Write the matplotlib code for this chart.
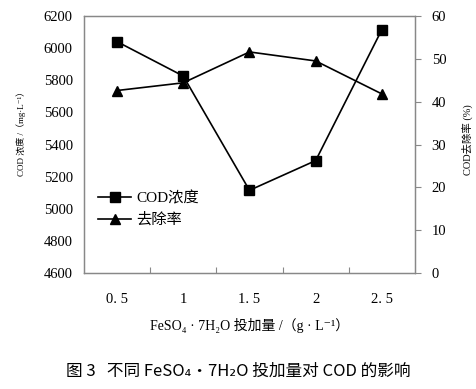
import matplotlib
matplotlib.use("Agg")
import matplotlib.pyplot as plt
import numpy as np

plt.rcParams['font.family'] = ['Liberation Serif', 'DejaVu Serif', 'Noto Sans CJK SC', 'DejaVu Sans']

# data
dose_labels = ["0. 5", "1", "1. 5", "2", "2. 5"]
cod = [6040, 5826, 5115, 5300, 6115]
removal = [42.6, 44.4, 51.6, 49.5, 41.8]

x = np.arange(len(dose_labels))
grey = "#888888"

fig = plt.figure(figsize=(4.77, 3.89), dpi=100)
ax = fig.add_axes([0.176, 0.298, 0.694, 0.661])
ax2 = ax.twinx()

l1, = ax.plot(x, cod, "-s", color="black", lw=1.2, ms=7, label="COD浓度")
l2, = ax2.plot(x, removal, "-^", color="black", lw=1.2, ms=7, label="去除率")

ax.set_xlim(-0.5, len(x) - 0.5)
ax.set_ylim(4600, 6200)
ax.set_yticks(np.arange(4600, 6201, 200))
ax2.set_ylim(0, 60)
ax2.set_yticks(np.arange(0, 61, 10))

# category labels centred, tick marks on the category boundaries
ax.set_xticks(np.arange(0.5, len(x) - 1, 1))
ax.set_xticklabels([])
ax.set_xticks(x, minor=True)
ax.set_xticklabels(dose_labels, minor=True)
ax.tick_params(axis="x", which="major", direction="in", length=4, color=grey)
ax.tick_params(axis="x", which="minor", length=0, pad=14, labelsize=10.5)
ax.tick_params(axis="y", direction="in", length=0, labelsize=10.5, pad=8)
ax2.tick_params(axis="y", direction="out", length=4, color=grey, labelsize=10.5, pad=8)

for a in (ax, ax2):
    for s in a.spines.values():
        s.set_color(grey)
        s.set_linewidth(0.9)

# axis titles placed as in the reference
fig.text(21 / 477, 1 - 131 / 389, "COD 浓度 /（mg·L⁻¹）", rotation=90,
         ha="center", va="center", fontsize=6.5)
fig.text(467 / 477, 1 - 140 / 389, "COD去除率 (%)", rotation=90,
         ha="center", va="center", fontsize=7.5)
ax.set_xlabel("FeSO₄ · 7H₂O 投加量 /（g · L⁻¹）", fontsize=10, labelpad=9)

leg = ax.legend([l1, l2], ["COD浓度", "去除率"], loc="lower left",
                bbox_to_anchor=(0.0, 0.125), frameon=False, fontsize=11,
                handlelength=2.2, handletextpad=0.3, borderaxespad=0.5)

fig.text(0.5, 0.045, "图 3   不同 FeSO₄·7H₂O 投加量对 COD 的影响",
         ha="center", va="center", fontsize=12,
         family=["Noto Sans CJK SC", "DejaVu Sans"])

fig.savefig("out.png", dpi=100)
